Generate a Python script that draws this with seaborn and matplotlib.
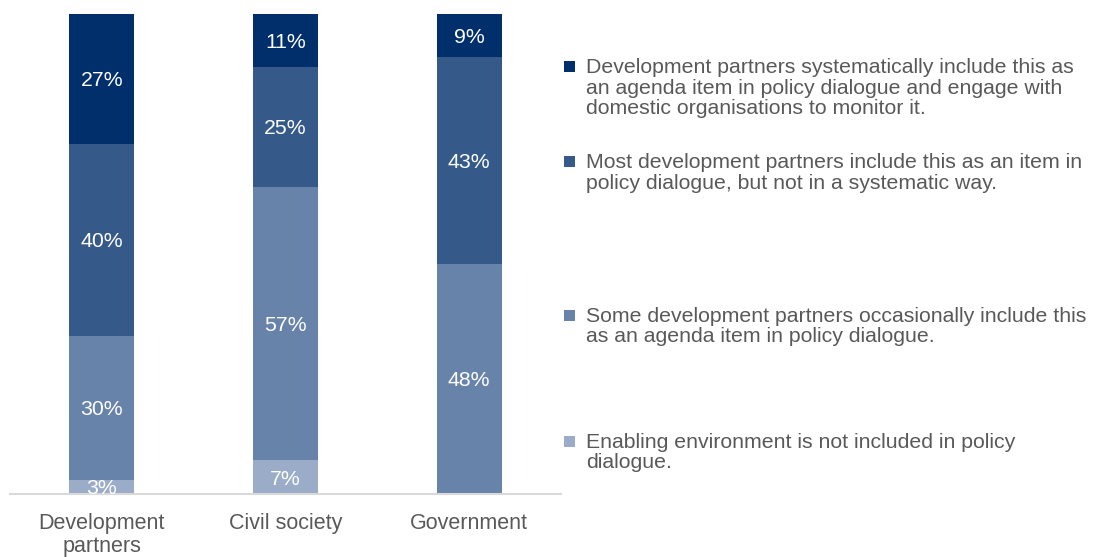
import matplotlib
matplotlib.use("Agg")
import matplotlib.pyplot as plt
from matplotlib.patches import Rectangle
import numpy as np
import pandas as pd
import seaborn as sns

groups = ["Development\npartners", "Civil society", "Government"]

series_names = [
    "Enabling environment is not included in policy\ndialogue.",
    "Some development partners occasionally include this\nas an agenda item in policy dialogue.",
    "Most development partners include this as an item in\npolicy dialogue, but not in a systematic way.",
    "Development partners systematically include this as\nan agenda item in policy dialogue and engage with\ndomestic organisations to monitor it.",
]
not_included = [3, 7, 0]
occasionally = [30, 57, 48]
most_partners = [40, 25, 43]
systematically = [27, 11, 9]

colors = ["#9aacc7", "#6783a9", "#355a8a", "#002f6c"]

layers = [not_included, occasionally, most_partners, systematically]

sns.set_theme(style="white")
plt.rcParams["font.family"] = ["Liberation Sans", "DejaVu Sans"]

fig = plt.figure(figsize=(11.10, 5.57), dpi=100)
ax = fig.add_axes([10 / 1110, 1 - 494 / 557, 551 / 1110, 480 / 557])

# Stack by drawing cumulative totals from the top layer down
cum = np.cumsum(np.array(layers), axis=0)
for i in range(len(layers) - 1, -1, -1):
    df = pd.DataFrame({"group": groups, "value": cum[i]})
    sns.barplot(data=df, x="group", y="value", color=colors[i], width=0.355,
                saturation=1, ax=ax, linewidth=0, order=groups)

# Segment labels
for i, vals in enumerate(layers):
    for j, v in enumerate(vals):
        if v <= 0:
            continue
        base = cum[i][j] - v
        ax.text(j, base + v / 2 - 0.45, f"{v}%", ha="center", va="center",
                color="white", fontsize=15.3)

ax.set_ylim(0, 100)
ax.set_xlim(-0.5, 2.5)
ax.set_xlabel("")
ax.set_ylabel("")
ax.set_yticks([])
for side in ["top", "right", "left"]:
    ax.spines[side].set_visible(False)
ax.spines["bottom"].set_color("#d9d9d9")
ax.spines["bottom"].set_linewidth(1.5)
ax.tick_params(axis="x", length=0, pad=14, labelsize=15.5, labelcolor="#595959")
for lbl in ax.get_xticklabels():
    lbl.set_linespacing(1.1)

# Legend entries (top series first)
legend_y = [66, 161, 315, 441]
for k, idx in enumerate([3, 2, 1, 0]):
    y = legend_y[k]
    fig.patches.append(Rectangle((564 / 1110, 1 - (y + 6) / 557), 11 / 1110, 11 / 557,
                                 transform=fig.transFigure, color=colors[idx], lw=0))
    fig.text(586 / 1110, 1 - (y - 8) / 557, series_names[idx], ha="left", va="top",
             fontsize=15.3, color="#595959", linespacing=1.1)

fig.savefig("out.png", dpi=100)
